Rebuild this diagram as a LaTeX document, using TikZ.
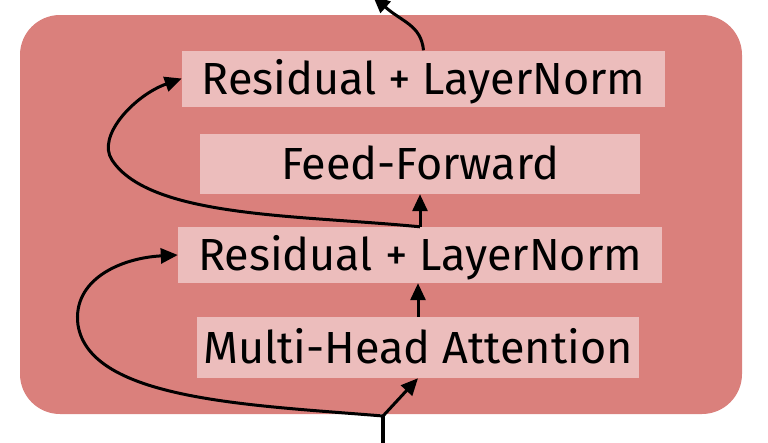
\documentclass[tikz,border=0pt]{standalone}
\usepackage{fontspec}
\setmainfont{Fira Sans}
\usetikzlibrary{arrows.meta}
\definecolor{blockred}{RGB}{218,128,124}
\definecolor{boxpink}{RGB}{236,189,188}
\begin{document}
\begin{tikzpicture}[x=1pt,y=-1pt,
  box/.style={fill=boxpink,inner sep=0pt,text height=31pt,text depth=0pt,font=\fontsize{45}{50}\selectfont},
  flow/.style={line width=3pt,-{Triangle[length=17pt,width=15pt]}}]
  \useasboundingbox (0,0) rectangle (768,442);
  % encoder block
  \fill[blockred,rounded corners=40pt] (20,15) rectangle (742,414);
  \node[box,minimum width=442pt,minimum height=61pt] (mha) at (418,347.5) {Multi-Head Attention};
  \node[box,minimum width=484pt,minimum height=56pt] (res1) at (420,255) {Residual + LayerNorm};
  \node[box,minimum width=440pt,minimum height=60pt] (ff) at (420,164) {Feed-Forward};
  \node[box,minimum width=483pt,minimum height=56pt] (res2) at (423.5,78.5) {Residual + LayerNorm};
  \coordinate (in) at (383,416);
  \coordinate (src) at (383,446);
  \coordinate (out) at (373,-4);
  % input
  \draw[line width=4.5pt] (src) -- (in);
  \draw[flow] (in) -- (mha.south);
  \draw[flow] (mha.north) -- (mha.north |- res1.south);
  \draw[flow] (res1.north) -- (res1.north |- ff.south);
  % skip connections
  \draw[flow] (in) .. controls (250,405) and (90,400) .. (78,325)
    .. controls (72,280) and (120,258) .. (res1.west);
  \draw[flow] (res1.north) .. controls (300,215) and (150,218) .. (112,160)
    .. controls (96,136) and (135,95) .. (res2.west);
  % output
  \draw[flow] (res2.north) .. controls (421,25) and (402,22) .. (out);
\end{tikzpicture}
\end{document}
